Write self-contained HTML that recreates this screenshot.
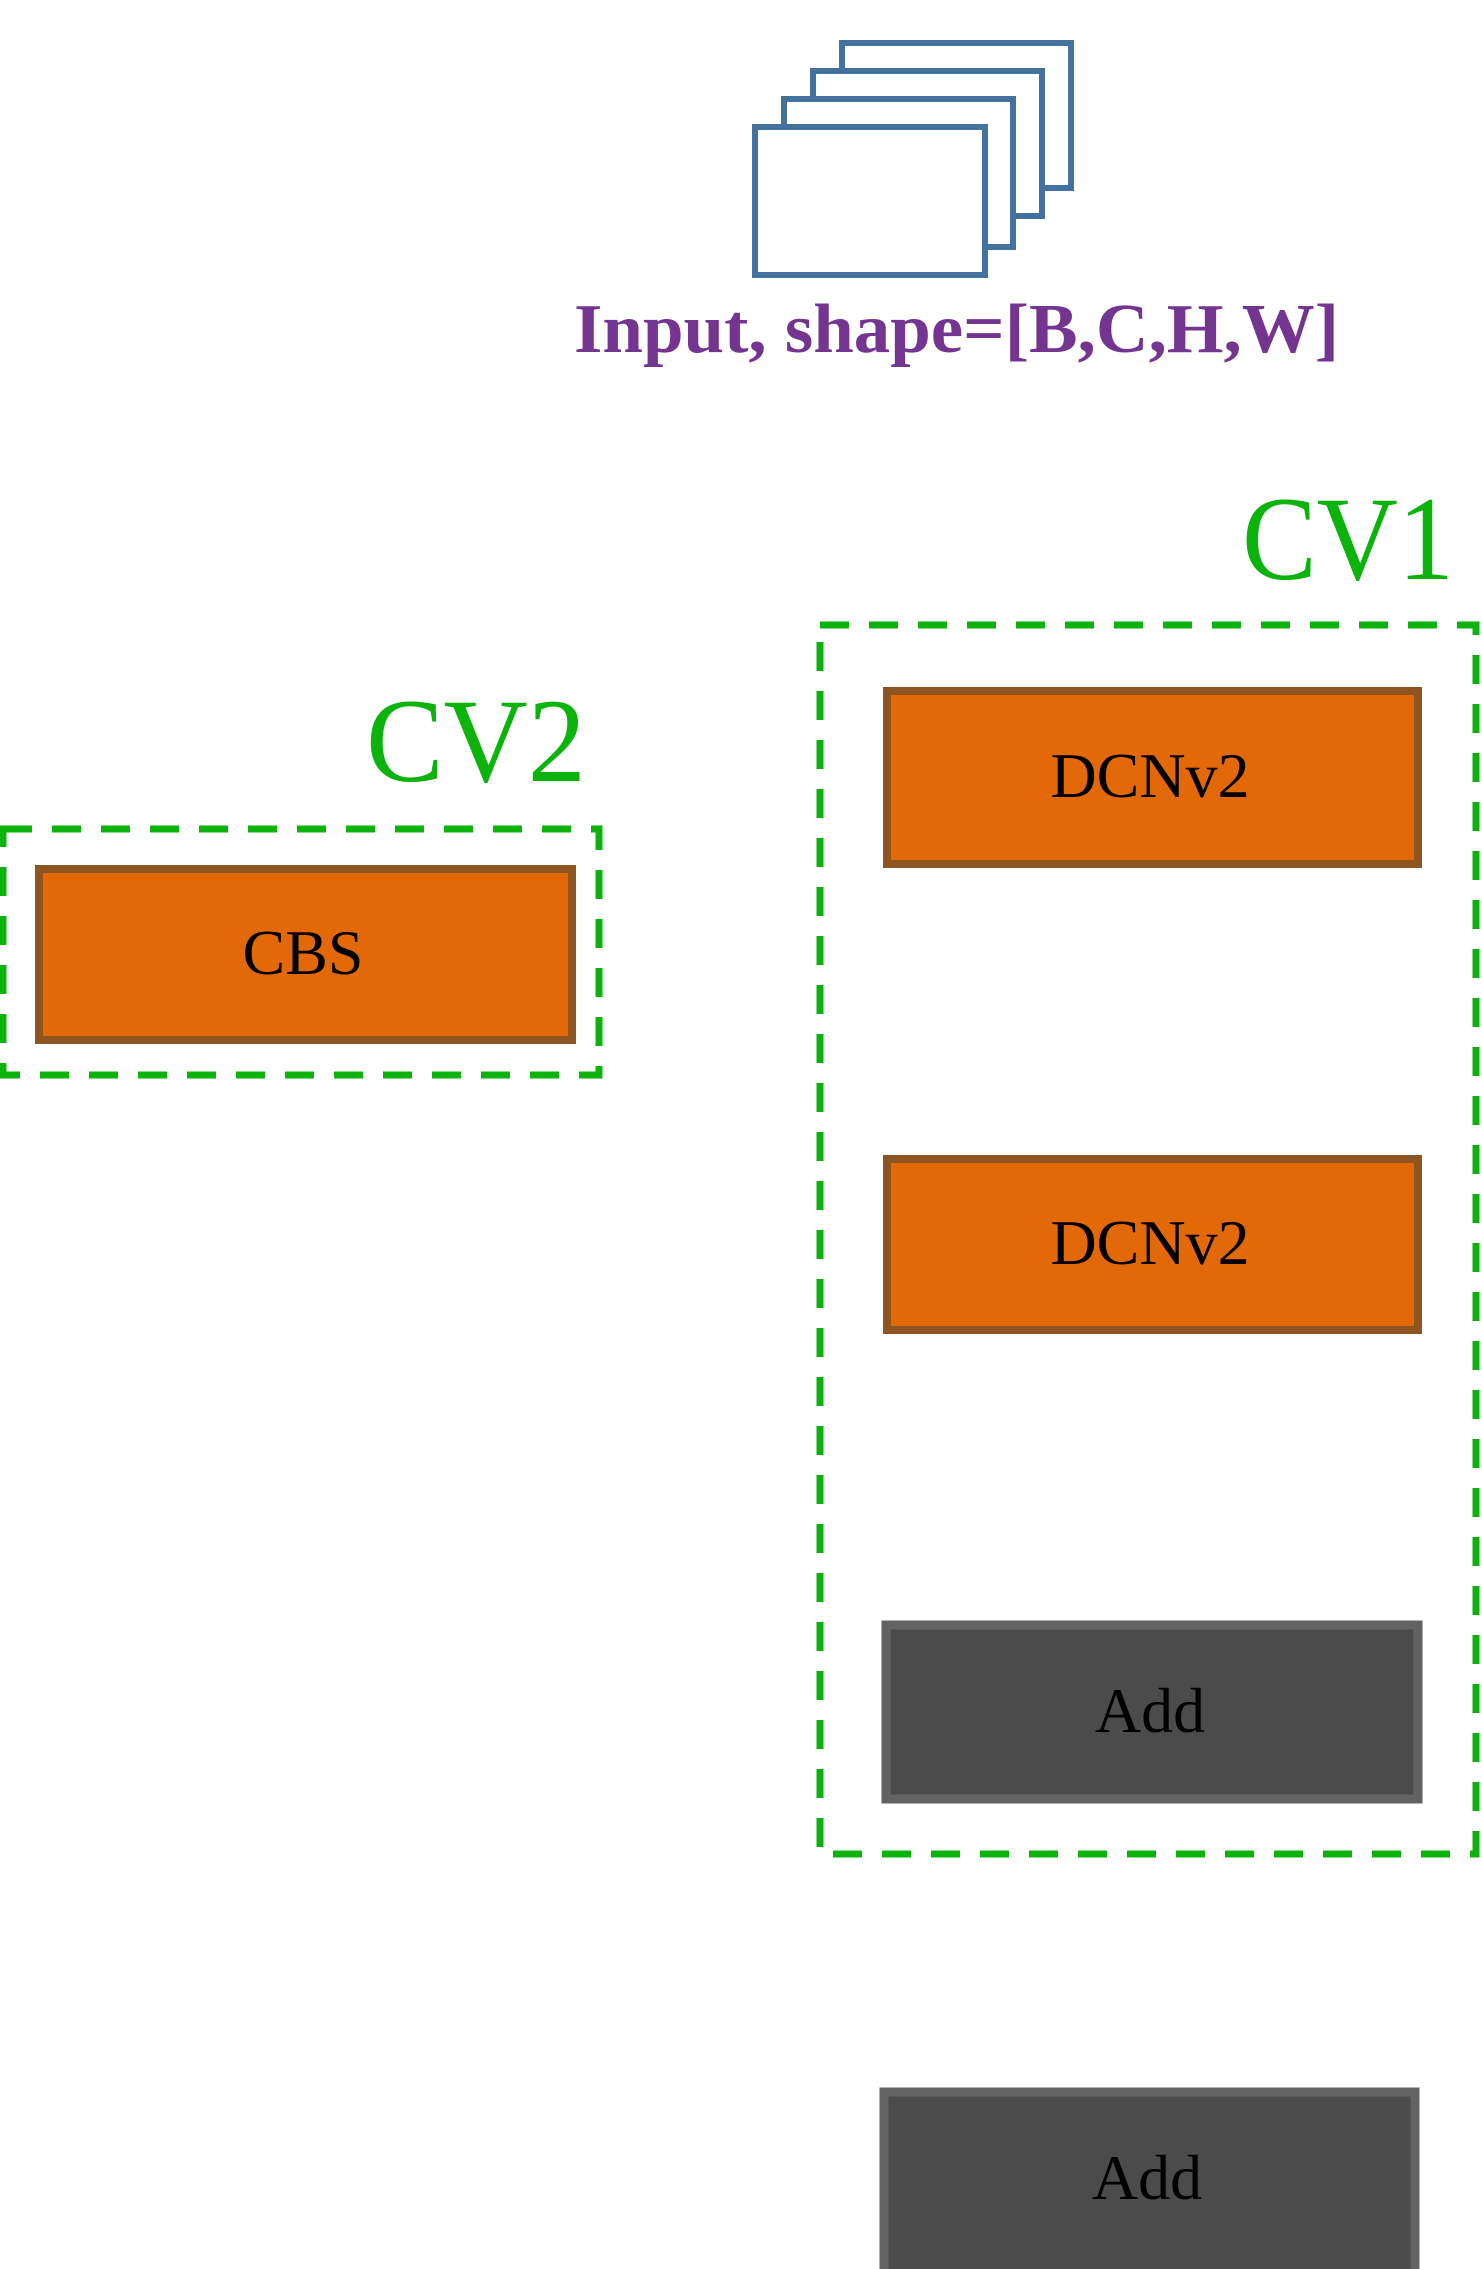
<!DOCTYPE html>
<html><head><meta charset="utf-8"><style>html,body{margin:0;padding:0;background:#fff}svg{display:block}</style></head>
<body>
<svg width="1482" height="2269" viewBox="0 0 1482 2269" xmlns="http://www.w3.org/2000/svg">
<g fill="#fff" stroke="#44729f" stroke-width="6">
<rect x="842" y="43" width="229" height="145"/>
<rect x="813" y="71" width="229" height="145"/>
<rect x="784" y="99" width="229" height="148"/>
<rect x="755" y="127" width="230" height="148"/>
</g>
<text x="574" y="352" font-family="Liberation Serif, serif" font-weight="bold" font-size="70" fill="#743590" textLength="765" lengthAdjust="spacingAndGlyphs">Input, shape=[B,C,H,W]</text>
<text x="1242" y="579" font-family="Liberation Serif, serif" font-size="120" fill="#0cb30c" textLength="212" lengthAdjust="spacingAndGlyphs">CV1</text>
<text x="366" y="781" font-family="Liberation Serif, serif" font-size="120" fill="#0cb30c" textLength="220" lengthAdjust="spacingAndGlyphs">CV2</text>
<g fill="none" stroke="#0cb30c" stroke-width="7" stroke-dasharray="29 20">
<rect x="820" y="625" width="656" height="1229"/>
<rect x="3" y="829" width="596" height="246"/>
</g>
<g stroke="#8f5520" stroke-width="8" fill="#e36807">
<rect x="39" y="869" width="533" height="171"/>
<rect x="887" y="691" width="531" height="173"/>
<rect x="887" y="1159" width="531" height="171"/>
</g>
<g stroke="#636363" stroke-width="9" fill="#4b4b4b">
<rect x="886" y="1625" width="532" height="174"/>
<rect x="884" y="2092" width="531" height="190"/>
</g>
<g font-family="Liberation Serif, serif" font-size="64" fill="#000" text-anchor="middle">
<text x="303" y="974">CBS</text>
<text x="1150" y="797">DCNv2</text>
<text x="1150" y="1264">DCNv2</text>
<text x="1150" y="1732">Add</text>
<text x="1147" y="2199">Add</text>
</g>
</svg>
</body></html>
